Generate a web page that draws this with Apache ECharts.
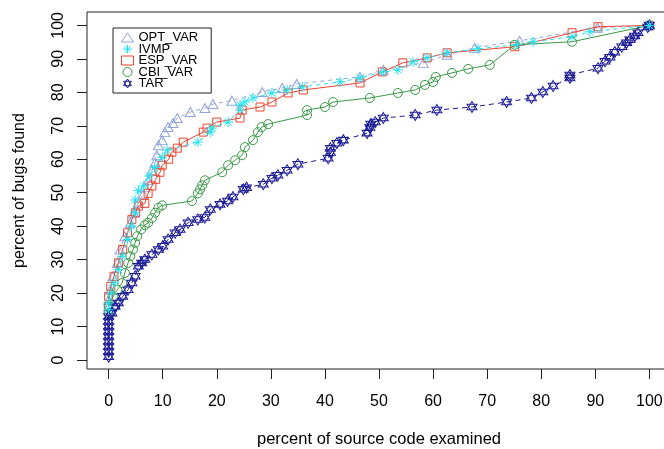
<!DOCTYPE html>
<html><head><meta charset="utf-8">
<script src="https://cdn.jsdelivr.net/npm/echarts@6/dist/echarts.min.js"></script>
<style>html,body{margin:0;padding:0;background:#fff}#c{width:664px;height:449px}</style>
</head><body><div id="c"></div>
<script>
const seriesNames = ['OPT_VAR', 'IVMP', 'ESP_VAR', 'CBI_VAR', 'TAR'];
const xTicks = [0, 10, 20, 30, 40, 50, 60, 70, 80, 90, 100];
const yTicks = [0, 10, 20, 30, 40, 50, 60, 70, 80, 90, 100];

const optVar = [[0,16],[0,18],[0.3,21],[0.8,25],[1.6,29],[2.1,33],[3,37],[4,41],[4.7,44],[5.5,47],[6.4,49.5],[6.7,51.6],[7.3,53.7],[8,56.7],[8.6,59.1],[8.9,61.2],[9.2,64.2],[9.9,65.7],[10.4,68.1],[11,69.6],[11.9,70.8],[12.7,72.3],[15.1,74.1],[17.8,75.3],[19.3,76.5],[22.8,77.5],[28.4,80.1],[32.1,81.3],[34.8,82.5],[46.5,84.6],[50.8,86.7],[58.2,88.8],[62.6,91.2],[67.7,93.3],[76,95.4],[90.4,99.3],[100,100]];
const ivmp = [[0,15],[0,17],[0.5,20],[1,23],[1.8,27],[2.5,31],[3.5,36],[4.2,40],[4.9,44],[4.9,47.8],[5.5,50.7],[6.5,52],[7.5,55],[8.5,57.5],[9.9,60.6],[10.8,62.7],[16.5,65.1],[18.8,68.1],[19.1,69.3],[22.1,71.1],[24.3,74.7],[24.3,76.2],[25.2,77.1],[26.7,78.3],[30.2,79.8],[33,80.7],[35.8,81.6],[42.8,83.1],[46.5,84.3],[50.8,86.1],[53.5,86.7],[56.3,89.1],[58.9,90.3],[62.6,91.8],[68.3,93],[75.5,94.2],[78.5,95.1],[85.7,96.6],[89,98.1],[100,100]];
const espVar = [[0,16],[0,19],[0.4,22],[1,25],[1.8,29],[2.6,33],[3.5,38],[4.3,42],[5,44],[5.5,46],[6.7,46.8],[7.3,49.8],[8,52],[8.7,54],[9.5,56.1],[9.9,58.2],[11.1,60],[11.7,62.1],[12.7,63.3],[13.8,65.1],[17.5,68.1],[18.2,69.3],[20,71.1],[24.3,72.3],[24.7,74.7],[28,75.6],[30.2,77.1],[33.2,79.8],[36,80.7],[46.5,82.8],[50.6,86.1],[54.4,88.8],[58.9,90.3],[62.6,91.8],[75.1,93.6],[85.7,97.8],[90.5,99.6],[100,100]];
const cbiVar = [[0,14],[0,16],[0.8,19],[1.6,21],[2.5,23],[3,26],[3.6,29],[4,31],[4.5,33],[4.9,35],[5.3,37],[6,39],[6.7,40.3],[7.3,41],[8,42.4],[8.6,44],[9.2,45.5],[9.9,46.2],[15.4,47.5],[16.5,49.8],[16.9,51],[17.3,52.2],[17.8,53.7],[21,56.1],[22.1,58.2],[23.4,59.7],[24.7,61.2],[25.2,63.6],[26.7,65.7],[27.6,68.1],[28.3,69.6],[29.5,70.5],[36.7,73.2],[36.7,74.7],[40,75.6],[41.5,77.1],[48.3,78.3],[53.5,79.8],[56.7,80.7],[58.5,82.2],[60,83.1],[60.5,84.6],[63.5,85.8],[66.5,87],[70.5,88.2],[75.1,94.2],[85.7,95.1],[100,100]];
const tar = [[0,1],[0,2.5],[0,4],[0,5.5],[0,7],[0,8.5],[0,10],[0,11.5],[0,13],[0.6,14],[1.2,16],[1.8,17],[2.6,19],[3.6,21],[4.3,23],[4.9,25],[5.5,28],[6.1,29],[6.7,30],[8,31.5],[9.2,33],[10,34],[11,36],[12.3,38],[13.2,39],[14.7,41],[16.5,42],[17.8,42.6],[18.8,45],[20.6,46.5],[22,47.5],[23,48.7],[24.9,51],[25.5,51.5],[28.6,52.5],[30.2,54.3],[31.3,55.2],[33,56.7],[35,58.5],[40.6,60.3],[41,62],[41,63.3],[42.2,64.8],[43.4,65.7],[47.8,67.8],[48.3,69.5],[48.5,70.5],[49.3,71.1],[50.8,72.3],[56.7,73.2],[60.7,74.7],[67.2,75.6],[73.6,77.1],[78.2,78.3],[80.3,80.1],[82.2,81.9],[85.3,84.3],[85.3,85.2],[90.5,87.2],[91.8,89.3],[92.7,90.5],[93.6,92],[94.9,93.6],[95.8,94.8],[96.4,95.7],[97.3,96.8],[97.9,97.8],[99.7,99.5],[100,100]];

const FONT = '"Liberation Sans", Arial, Helvetica, sans-serif';
const colors = { OPT_VAR: '#93A4DA', IVMP: '#1EE3EE', ESP_VAR: '#EE4430', CBI_VAR: '#3A9A48', TAR: '#1C1C96' };
const ASTER = 'path://M5 0 L5 10 M0 5 L10 5 M1.46 1.46 L8.54 8.54 M1.46 8.54 L8.54 1.46';
const STAR = 'path://M5 0 L9.33 7.5 L0.67 7.5 Z M5 10 L9.33 2.5 L0.67 2.5 Z';
const marks = {
  OPT_VAR: { symbol: 'triangle', size: [10, 9], dash: [4, 4], data: optVar, z: 2 },
  IVMP:    { symbol: ASTER, size: 10, dash: [4, 4], data: ivmp, z: 6 },
  ESP_VAR: { symbol: 'rect', size: 8, dash: 'solid', data: espVar, z: 3 },
  CBI_VAR: { symbol: 'circle', size: 9, dash: 'solid', data: cbiVar, z: 4 },
  TAR:     { symbol: STAR, size: [10, 11], dash: [5, 4], data: tar, z: 5 }
};

const series = seriesNames.map(n => ({
  name: n, type: 'line', data: marks[n].data, z: marks[n].z,
  symbol: marks[n].symbol, symbolSize: marks[n].size, showAllSymbol: true,
  itemStyle: { color: 'rgba(0,0,0,0)', borderColor: colors[n], borderWidth: 1 },
  lineStyle: { color: colors[n], width: 1, type: marks[n].dash },
  emphasis: { disabled: true }
}));

const chart = echarts.init(document.getElementById('c'), null, { renderer: 'canvas' });
chart.setOption({
  animation: false,
  backgroundColor: '#fff',
  grid: { left: 87, top: 12, width: 584, height: 357, outerBoundsMode: 'none', containLabel: false, show: true, borderColor: '#222', borderWidth: 1, backgroundColor: 'rgba(0,0,0,0)' },
  xAxis: {
    type: 'value', min: -4, max: 104,
    axisLine: { show: false, onZero: false },
    splitLine: { show: false },
    axisTick: { show: true, length: 10, customValues: xTicks, lineStyle: { color: '#222' } },
    axisLabel: { customValues: xTicks, margin: 25, fontSize: 16, color: '#000', fontFamily: FONT },
    name: 'percent of source code examined', nameLocation: 'middle', nameGap: 62,
    nameTextStyle: { fontSize: 16.5, color: '#000', fontFamily: FONT }
  },
  yAxis: {
    type: 'value', min: -2.7, max: 104,
    axisLine: { show: false, onZero: false },
    splitLine: { show: false },
    axisTick: { show: true, length: 10, customValues: yTicks, lineStyle: { color: '#222' } },
    axisLabel: { customValues: yTicks, margin: 20, rotate: 90, fontSize: 16, color: '#000', fontFamily: FONT },
    name: 'percent of bugs found', nameLocation: 'middle', nameGap: 59, nameRotate: 90,
    nameTextStyle: { fontSize: 16, color: '#000', fontFamily: FONT }
  },
  legend: {
    orient: 'vertical', left: 113, top: 28,
    padding: [3, 13, 3, 8],
    borderColor: '#222', borderWidth: 1, borderRadius: 0,
    itemWidth: 12, itemHeight: 9, itemGap: -1.5,
    selectedMode: false,
    textStyle: { fontSize: 13, lineHeight: 11.5, color: '#000', fontFamily: FONT },
    data: seriesNames.map(n => ({
      name: n, icon: marks[n].symbol,
      itemStyle: { color: 'rgba(0,0,0,0)', borderColor: colors[n], borderWidth: 1 }
    }))
  },
  series: series
});
</script></body></html>
